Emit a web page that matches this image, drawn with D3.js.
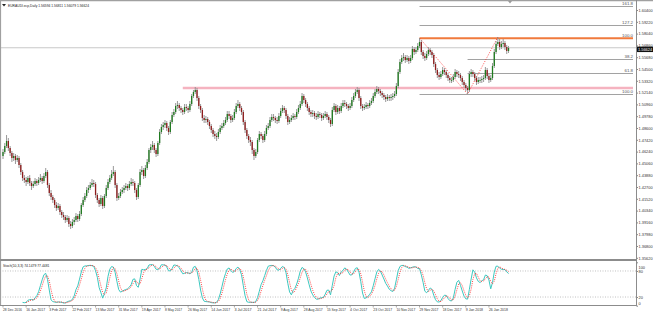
<!DOCTYPE html>
<html>
<head>
<meta charset="utf-8">
<script src="https://cdn.jsdelivr.net/npm/d3@7"></script>
<style>
body { margin: 0; background: #fff; }
svg text { font-family: "Liberation Sans", "DejaVu Sans", sans-serif; }
</style>
</head>
<body>
<svg id="chart" width="653" height="314"></svg>
<script>
// EURAUD daily, one value per bar (open = previous close)
var firstOpen = 1.458;
var closes = [
    1.462,1.468,1.473,1.466,1.461,1.456,1.458,1.454,1.456,1.449,
    1.442,1.436,1.434,1.432,1.436,1.431,1.428,1.430,1.433,1.431,
    1.434,1.436,1.433,1.438,1.442,1.429,1.421,1.417,1.414,1.409,
    1.406,1.408,1.402,1.399,1.397,1.394,1.396,1.390,1.388,1.392,
    1.394,1.398,1.395,1.400,1.409,1.414,1.418,1.424,1.426,1.429,
    1.431,1.430,1.419,1.414,1.410,1.416,1.408,1.418,1.426,1.432,
    1.436,1.440,1.442,1.429,1.416,1.418,1.422,1.424,1.426,1.428,
    1.426,1.430,1.432,1.431,1.424,1.417,1.429,1.442,1.444,1.438,
    1.446,1.452,1.464,1.467,1.469,1.464,1.460,1.471,1.482,1.487,
    1.489,1.491,1.486,1.482,1.492,1.499,1.502,1.508,1.509,1.506,
    1.504,1.502,1.507,1.506,1.504,1.510,1.518,1.522,1.524,1.516,
    1.508,1.504,1.496,1.494,1.495,1.492,1.488,1.484,1.480,1.478,
    1.477,1.482,1.486,1.488,1.491,1.494,1.500,1.498,1.494,1.496,
    1.502,1.508,1.510,1.506,1.502,1.492,1.484,1.478,1.474,1.472,
    1.464,1.458,1.462,1.474,1.480,1.478,1.474,1.480,1.486,1.488,
    1.494,1.497,1.496,1.494,1.493,1.498,1.503,1.506,1.504,1.498,
    1.492,1.494,1.496,1.498,1.497,1.502,1.506,1.510,1.518,1.514,
    1.510,1.506,1.502,1.500,1.501,1.498,1.497,1.500,1.499,1.496,
    1.498,1.500,1.497,1.494,1.490,1.504,1.508,1.502,1.506,1.503,
    1.508,1.511,1.510,1.508,1.506,1.508,1.514,1.518,1.522,1.524,
    1.516,1.508,1.506,1.507,1.509,1.508,1.511,1.513,1.518,1.522,
    1.525,1.523,1.521,1.519,1.517,1.515,1.517,1.516,1.517,1.518,
    1.520,1.528,1.542,1.552,1.556,1.557,1.554,1.556,1.553,1.556,
    1.565,1.562,1.564,1.568,1.572,1.562,1.558,1.556,1.560,1.564,
    1.562,1.559,1.550,1.544,1.539,1.537,1.540,1.544,1.542,1.539,
    1.536,1.534,1.534,1.537,1.542,1.540,1.539,1.536,1.532,1.529,
    1.526,1.524,1.540,1.542,1.540,1.536,1.532,1.534,1.534,1.535,
    1.536,1.544,1.538,1.534,1.536,1.548,1.562,1.570,1.572,1.567,
    1.570,1.571,1.567,1.563,1.566
];
var highs = [
    1.465,1.471,1.479,1.476,1.468,1.463,1.461,1.460,1.459,1.458,
    1.451,1.444,1.439,1.437,1.438,1.439,1.433,1.433,1.436,1.435,
    1.437,1.440,1.438,1.441,1.446,1.444,1.431,1.424,1.419,1.416,
    1.412,1.411,1.410,1.404,1.402,1.399,1.399,1.398,1.393,1.395,
    1.397,1.401,1.400,1.403,1.411,1.417,1.421,1.427,1.429,1.432,
    1.435,1.434,1.432,1.421,1.416,1.419,1.418,1.420,1.429,1.435,
    1.439,1.444,1.448,1.444,1.431,1.421,1.425,1.427,1.429,1.431,
    1.430,1.433,1.436,1.435,1.433,1.426,1.431,1.445,1.448,1.446,
    1.449,1.455,1.466,1.470,1.473,1.471,1.466,1.473,1.485,1.490,
    1.492,1.494,1.493,1.488,1.494,1.502,1.505,1.511,1.513,1.511,
    1.508,1.506,1.510,1.510,1.508,1.513,1.520,1.524,1.527,1.526,
    1.518,1.510,1.506,1.499,1.498,1.497,1.494,1.490,1.486,1.483,
    1.481,1.485,1.489,1.491,1.494,1.497,1.503,1.503,1.500,1.499,
    1.505,1.511,1.514,1.512,1.508,1.504,1.494,1.486,1.480,1.477,
    1.474,1.466,1.465,1.476,1.483,1.482,1.480,1.483,1.489,1.491,
    1.497,1.500,1.500,1.498,1.497,1.501,1.506,1.509,1.508,1.506,
    1.500,1.497,1.499,1.501,1.500,1.505,1.509,1.513,1.521,1.520,
    1.516,1.512,1.508,1.504,1.504,1.503,1.501,1.503,1.502,1.501,
    1.501,1.503,1.502,1.499,1.496,1.507,1.511,1.510,1.509,1.508,
    1.511,1.514,1.514,1.512,1.510,1.511,1.517,1.521,1.525,1.527,
    1.526,1.518,1.510,1.510,1.512,1.511,1.514,1.516,1.521,1.525,
    1.528,1.527,1.525,1.523,1.521,1.519,1.520,1.519,1.520,1.521,
    1.523,1.531,1.545,1.555,1.559,1.561,1.559,1.559,1.558,1.559,
    1.568,1.567,1.567,1.571,1.576,1.574,1.564,1.561,1.563,1.567,
    1.566,1.564,1.561,1.552,1.546,1.542,1.543,1.547,1.546,1.544,
    1.541,1.538,1.537,1.540,1.545,1.544,1.543,1.541,1.538,1.534,
    1.531,1.528,1.543,1.545,1.544,1.542,1.538,1.537,1.537,1.538,
    1.539,1.547,1.546,1.540,1.539,1.551,1.565,1.573,1.577,1.575,
    1.573,1.575,1.573,1.569,1.568
];
var lows = [
    1.455,1.460,1.466,1.463,1.458,1.452,1.453,1.450,1.452,1.446,
    1.439,1.433,1.431,1.428,1.430,1.428,1.424,1.426,1.428,1.428,
    1.429,1.432,1.430,1.431,1.436,1.426,1.418,1.414,1.411,1.406,
    1.403,1.404,1.399,1.396,1.394,1.391,1.392,1.387,1.385,1.386,
    1.389,1.392,1.392,1.393,1.398,1.407,1.412,1.416,1.421,1.424,
    1.427,1.427,1.416,1.411,1.407,1.408,1.405,1.406,1.416,1.424,
    1.430,1.434,1.438,1.426,1.413,1.414,1.416,1.420,1.421,1.424,
    1.423,1.424,1.428,1.428,1.421,1.414,1.415,1.427,1.439,1.435,
    1.436,1.444,1.450,1.461,1.464,1.461,1.457,1.458,1.469,1.480,
    1.484,1.486,1.483,1.479,1.480,1.490,1.497,1.500,1.505,1.503,
    1.501,1.499,1.500,1.503,1.501,1.502,1.508,1.516,1.520,1.513,
    1.505,1.501,1.493,1.491,1.491,1.489,1.485,1.481,1.477,1.475,
    1.473,1.475,1.480,1.484,1.486,1.489,1.492,1.495,1.491,1.492,
    1.494,1.500,1.506,1.503,1.499,1.489,1.481,1.475,1.471,1.468,
    1.460,1.454,1.456,1.460,1.472,1.475,1.471,1.472,1.478,1.484,
    1.486,1.492,1.493,1.491,1.490,1.491,1.496,1.501,1.501,1.495,
    1.489,1.490,1.492,1.494,1.494,1.495,1.500,1.504,1.508,1.511,
    1.507,1.503,1.499,1.497,1.497,1.495,1.494,1.495,1.496,1.493,
    1.494,1.496,1.494,1.491,1.487,1.488,1.502,1.499,1.500,1.500,
    1.501,1.506,1.507,1.505,1.503,1.504,1.506,1.512,1.516,1.520,
    1.513,1.505,1.503,1.504,1.505,1.505,1.506,1.509,1.511,1.516,
    1.520,1.520,1.518,1.516,1.514,1.512,1.513,1.513,1.513,1.514,
    1.516,1.518,1.526,1.540,1.550,1.553,1.551,1.552,1.550,1.551,
    1.554,1.559,1.560,1.562,1.566,1.559,1.555,1.553,1.554,1.558,
    1.559,1.556,1.547,1.541,1.536,1.534,1.535,1.538,1.539,1.536,
    1.533,1.531,1.531,1.532,1.535,1.537,1.536,1.533,1.529,1.526,
    1.523,1.520,1.522,1.537,1.537,1.533,1.529,1.530,1.531,1.531,
    1.532,1.534,1.535,1.531,1.532,1.534,1.546,1.560,1.568,1.564,
    1.565,1.567,1.564,1.560,1.561
];

var priceTicks = [1.6040, 1.5922, 1.5804, 1.5686, 1.5568, 1.5450, 1.5332, 1.5214, 1.5096, 1.4978,
    1.4860, 1.4742, 1.4624, 1.4506, 1.4388, 1.4270, 1.4152, 1.4034, 1.3916, 1.3798, 1.3680, 1.3562];
var dateLabels = ["28 Dec 2016", "16 Jan 2017", "3 Feb 2017", "22 Feb 2017", "13 Mar 2017", "31 Mar 2017",
    "19 Apr 2017", "8 May 2017", "26 May 2017", "14 Jun 2017", "3 Jul 2017", "21 Jul 2017", "9 Aug 2017",
    "28 Aug 2017", "15 Sep 2017", "4 Oct 2017", "23 Oct 2017", "10 Nov 2017", "29 Nov 2017",
    "18 Dec 2017", "9 Jan 2018", "26 Jan 2018"];
var stochTicks = [100, 80, 20, 0];
var stochBands = [80, 20];

// fibonacci objects: level label, price, first bar
var fibLabels = ["161.8", "127.2", "100.0", "38.2", "61.8", "100.0"];
var fibPrices = [1.608, 1.589, 1.576, 1.555, 1.541, 1.520];
var fibStart = [234, 234, 234, 261, 261, 234];
var fibAnchors = [[234, 1.576], [261, 1.520], [278, 1.577]];

var orangeLevel = 1.5757, orangeStart = 234;
var pinkLevel = 1.526, pinkStart = 101;

var headerText = "EURAUDl.ecp,Daily  1.56594 1.56811 1.56079 1.56624";
var stochText = "Stoch(10,3,3) 74.1479 77.4481";
var lastPrice = 1.56624;

var W = 653, H = 314;
var plotRight = 636, mainBottom = 258, subBottom = 305.5;
var barStep = 1.78;
var fs = "4.4px", axisFs = "3.9px";

var svg = d3.select("#chart");

var x = d3.scaleLinear().domain([0, 356]).range([3, 3 + 356 * barStep]);
var y = d3.scaleLinear().domain([1.614 - mainBottom / 1000, 1.614]).range([mainBottom, 0]);
var ys = d3.scaleLinear().domain([0, 100]).range([305.7, 262.3]);

var opens = closes.map(function(c, i) { return i ? closes[i - 1] : firstOpen; });

// squeeze tiny MT4-style labels into the width they take in the screenshot
function fitText(sel, perChar) {
    sel.attr("textLength", function() { return this.textContent.length * perChar; })
       .attr("lengthAdjust", "spacingAndGlyphs");
}

svg.append("defs").append("clipPath").attr("id", "mainClip")
    .append("rect").attr("x", 0).attr("y", 0).attr("width", plotRight).attr("height", mainBottom);

var main = svg.append("g").attr("clip-path", "url(#mainClip)");

// current price line
main.append("line")
    .attr("x1", 0).attr("x2", plotRight)
    .attr("y1", y(lastPrice)).attr("y2", y(lastPrice))
    .attr("stroke", "#c8c8c8").attr("stroke-width", 1);

// pink support line
main.append("line")
    .attr("x1", x(pinkStart)).attr("x2", plotRight - 3)
    .attr("y1", y(pinkLevel)).attr("y2", y(pinkLevel))
    .attr("stroke", "#f5b3c0").attr("stroke-width", 2.5);

// fib levels
var fib = main.append("g");
fibPrices.forEach(function(p, k) {
    fib.append("line")
        .attr("x1", x(fibStart[k])).attr("x2", plotRight - 3)
        .attr("y1", Math.round(y(p)) + 0.5).attr("y2", Math.round(y(p)) + 0.5)
        .attr("stroke", "#8a8a8a").attr("stroke-width", 0.8);
    fib.append("text")
        .attr("x", plotRight - 3).attr("y", y(p) - 1)
        .attr("text-anchor", "end")
        .style("font-size", fs).style("fill", "#555")
        .text(fibLabels[k]);
});

// orange resistance
main.append("line")
    .attr("x1", x(orangeStart)).attr("x2", plotRight - 3)
    .attr("y1", y(orangeLevel)).attr("y2", y(orangeLevel))
    .attr("stroke", "#f07a3c").attr("stroke-width", 2);

// red dotted anchor lines
main.append("path")
    .attr("d", d3.line().x(function(d) { return x(d[0]); }).y(function(d) { return y(d[1]); })(fibAnchors))
    .attr("fill", "none").attr("stroke", "#ff2020").attr("stroke-width", 0.8)
    .attr("stroke-dasharray", "1,1.5");

// candles
var candle = main.selectAll(".candle").data(closes).enter().append("g").attr("class", "candle");
candle.append("line")
    .attr("x1", function(d, i) { return x(i); })
    .attr("x2", function(d, i) { return x(i); })
    .attr("y1", function(d, i) { return y(highs[i]); })
    .attr("y2", function(d, i) { return y(lows[i]); })
    .attr("stroke", "#8d8d8d").attr("stroke-width", 0.9);
candle.append("rect")
    .attr("x", function(d, i) { return x(i) - 0.65; })
    .attr("width", 1.3)
    .attr("y", function(d, i) { return y(Math.max(opens[i], d)); })
    .attr("height", function(d, i) { return Math.max(0.8, Math.abs(y(opens[i]) - y(d))); })
    .attr("fill", function(d, i) { return d >= opens[i] ? "#1f7a1f" : "#8e1c1c"; });

// header
svg.append("path").attr("d", "M2,4 L6,4 L4,6.5 Z").attr("fill", "#222");
svg.append("text").attr("x", 8).attr("y", 7)
    .style("font-size", fs).style("fill", "#222").text(headerText)
    .call(fitText, 1.62);

// shift marker
svg.append("path").attr("d", "M508,1 L512,1 L510,3.5 Z").attr("fill", "#999");

// stochastic (10,3,3)
function stochastic(kPeriod, slowing, dPeriod) {
    var k = [], d = [];
    for (var i = 0; i < closes.length; i++) {
        if (i < kPeriod + slowing - 2) { k.push(null); continue; }
        var num = 0, den = 0;
        for (var j = i - slowing + 1; j <= i; j++) {
            var ll = d3.min(lows.slice(j - kPeriod + 1, j + 1));
            var hh = d3.max(highs.slice(j - kPeriod + 1, j + 1));
            num += closes[j] - ll;
            den += hh - ll;
        }
        k.push(den ? 100 * num / den : 100);
    }
    for (var i = 0; i < k.length; i++) {
        var win = k.slice(Math.max(0, i - dPeriod + 1), i + 1);
        d.push(i < kPeriod + slowing + dPeriod - 3 ? null : d3.mean(win));
    }
    return {k: k, d: d};
}
var st = stochastic(10, 3, 3);

var sub = svg.append("g");
stochBands.forEach(function(v) {
    sub.append("line")
        .attr("x1", 0).attr("x2", plotRight)
        .attr("y1", ys(v)).attr("y2", ys(v))
        .attr("stroke", "#a8a8a8").attr("stroke-width", 0.7)
        .attr("stroke-dasharray", "1,1.5");
});
var stLine = d3.line()
    .defined(function(d) { return d != null; })
    .x(function(d, i) { return x(i); })
    .y(function(d) { return ys(d); });
sub.append("path").attr("d", stLine(st.k))
    .attr("fill", "none").attr("stroke", "#3cc8c0").attr("stroke-width", 1);
sub.append("path").attr("d", stLine(st.d))
    .attr("fill", "none").attr("stroke", "#ff3030").attr("stroke-width", 0.9)
    .attr("stroke-dasharray", "1,1.2");
svg.append("text").attr("x", 3).attr("y", 266.5)
    .style("font-size", fs).style("fill", "#222").text(stochText)
    .call(fitText, 1.6);

// frame
svg.append("line").attr("x1", 0).attr("x2", W).attr("y1", 0.5).attr("y2", 0.5)
    .attr("stroke", "#a0a0a0").attr("stroke-width", 1.5);
svg.append("line").attr("x1", 0.5).attr("x2", 0.5).attr("y1", 0).attr("y2", subBottom)
    .attr("stroke", "#a0a0a0").attr("stroke-width", 1.2);
svg.append("line").attr("x1", 0).attr("x2", plotRight + 1).attr("y1", 260).attr("y2", 260)
    .attr("stroke", "#8c8c8c").attr("stroke-width", 2);
svg.append("line").attr("x1", 0).attr("x2", plotRight + 1).attr("y1", subBottom).attr("y2", subBottom)
    .attr("stroke", "#8c8c8c").attr("stroke-width", 1);
svg.append("line").attr("x1", plotRight + 0.5).attr("x2", plotRight + 0.5).attr("y1", 0).attr("y2", subBottom)
    .attr("stroke", "#8c8c8c").attr("stroke-width", 1);

// right price axis
var axisR = svg.append("g").attr("transform", "translate(" + (plotRight + 0.5) + ",0)")
    .call(d3.axisRight(y).tickValues(priceTicks).tickSize(1.5).tickPadding(0.5)
        .tickFormat(function(d) { return d.toFixed(5); }));
axisR.select(".domain").remove();
axisR.selectAll("line").attr("stroke", "#888");
axisR.selectAll("text").attr("font-size", null).attr("font-family", null)
    .style("font-size", axisFs).style("fill", "#333");

// last price box, sits a touch under the price line like MT4 does
var boxY = y(lastPrice) + 1.5;
svg.append("rect").attr("x", plotRight + 1).attr("y", boxY - 2.6).attr("width", 16).attr("height", 5.4)
    .attr("fill", "#111");
svg.append("text").attr("x", plotRight + 2).attr("y", boxY + 1.5)
    .style("font-size", axisFs).style("fill", "#fff").text(lastPrice.toFixed(5));

// stochastic axis
var axisS = svg.append("g").attr("transform", "translate(" + (plotRight + 0.5) + ",0)")
    .call(d3.axisRight(ys).tickValues(stochTicks).tickSize(1.5).tickPadding(0.5));
axisS.select(".domain").remove();
axisS.selectAll("line").attr("stroke", "#888");
axisS.selectAll("text").attr("font-size", null).attr("font-family", null)
    .style("font-size", axisFs).style("fill", "#333")
    .attr("dy", function(d) { return d == 100 ? "1.5em" : d == 0 ? "-0.2em" : "0.32em"; });

// date axis
var dateAxis = svg.append("g");
dateLabels.forEach(function(lbl, k) {
    var xx = x(k * 13);
    dateAxis.append("line").attr("x1", xx).attr("x2", xx).attr("y1", subBottom).attr("y2", subBottom + 2)
        .attr("stroke", "#888").attr("stroke-width", 0.7);
    dateAxis.append("text").attr("x", xx).attr("y", 311)
        .style("font-size", fs).style("fill", "#333").text(lbl)
        .call(fitText, 1.72);
});
</script>
</body>
</html>
